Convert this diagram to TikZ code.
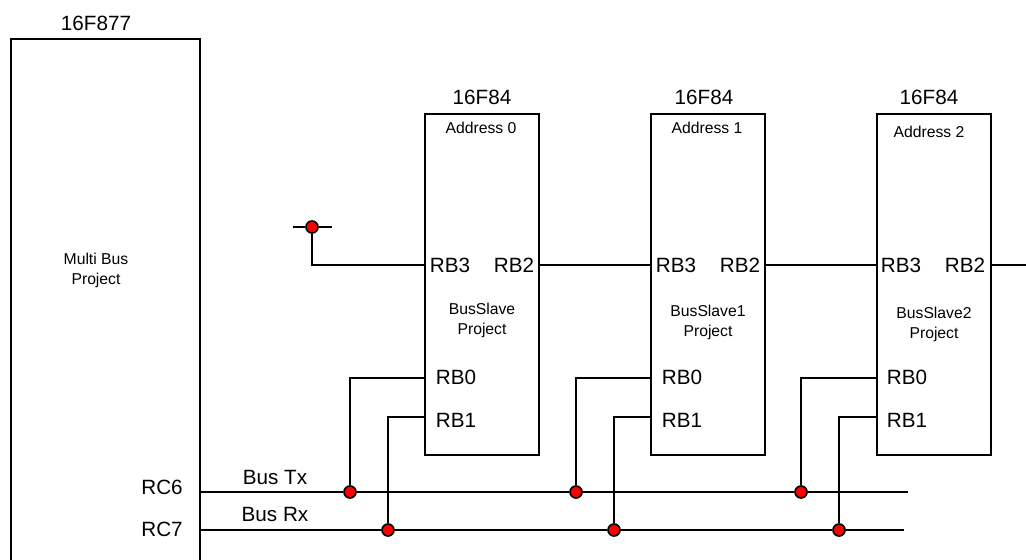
\documentclass[tikz,border=0pt]{standalone}
\usepackage{fontspec}
\setmainfont{Liberation Sans}
\tikzset{every picture/.style={line width=1.25pt}}
\tikzset{
  slavebox/.style={draw,rectangle,minimum width=114pt*0.75,minimum height=341pt*0.75,inner sep=0pt},
  bigtext/.style={font=\fontsize{15.5}{18}\selectfont,inner sep=0.75pt},
  smalltext/.style={font=\fontsize{11.8}{15}\selectfont,inner sep=0.75pt,align=center},
  joint/.style={draw,circle,fill=red,minimum size=9pt,inner sep=0pt}
}

\begin{document}
\begin{tikzpicture}[x=0.75pt,y=0.75pt,yscale=-1,xscale=1]
\useasboundingbox (0,0) rectangle (1026,560);

%Shape: Master outline
\draw (11,560) -- (11,39) -- (200,39) -- (200,560);
%Shape: Slave rectangles
\node [slavebox] (slave0) at (482,284.5) {};
\node [slavebox] (slave1) at (708,284.5) {};
\node [slavebox] (slave2) at (934,284.5) {};

% Text Node
\node [bigtext] (master) at (96,23) {16F877};
\node [smalltext] (masterproject) at (96,270) {Multi Bus\\Project};
\node [bigtext] (rc6) at (162,487) {RC6};
\node [bigtext] (rc7) at (162,529) {RC7};
\node [bigtext] (bustx) at (275,477) {Bus Tx};
\node [bigtext] (busrx) at (275,514) {Bus Rx};
% Text Node
\node [bigtext] (chip0) at (482,97) {16F84};
\node [smalltext] (addr0) at (481,128) {Address 0};
\node [smalltext] (project0) at (482,320) {BusSlave\\Project};
\node [bigtext] (rb3a) at (450,265) {RB3};
\node [bigtext] (rb2a) at (514,265) {RB2};
\node [bigtext] (rb0a) at (456,377) {RB0};
\node [bigtext] (rb1a) at (456,420) {RB1};
% Text Node
\node [bigtext] (chip1) at (704,97) {16F84};
\node [smalltext] (addr1) at (707,128) {Address 1};
\node [smalltext] (project1) at (708,322) {BusSlave1\\Project};
\node [bigtext] (rb3b) at (676,265) {RB3};
\node [bigtext] (rb2b) at (740,265) {RB2};
\node [bigtext] (rb0b) at (682,377) {RB0};
\node [bigtext] (rb1b) at (682,420) {RB1};
% Text Node
\node [bigtext] (chip2) at (929,97) {16F84};
\node [smalltext] (addr2) at (929,132) {Address 2};
\node [smalltext] (project2) at (934,324) {BusSlave2\\Project};
\node [bigtext] (rb3c) at (901,265) {RB3};
\node [bigtext] (rb2c) at (965,265) {RB2};
\node [bigtext] (rb0c) at (907,377) {RB0};
\node [bigtext] (rb1c) at (907,420) {RB1};

%Shape: Joints
\node [joint] (stub) at (312,227) {};
\node [joint] (tx0) at (350,492) {};
\node [joint] (tx1) at (576,492) {};
\node [joint] (tx2) at (801,492) {};
\node [joint] (rx0) at (388,530) {};
\node [joint] (rx1) at (614,530) {};
\node [joint] (rx2) at (839,530) {};

%Straight Lines: free ends
\coordinate (stubl) at (293,227);
\coordinate (stubr) at (332,227);
\coordinate (rc6pin) at (200,492);
\coordinate (rc7pin) at (200,530);
\coordinate (txend) at (908,492);
\coordinate (rxend) at (904,530);
\coordinate (chainend) at (1026,265);

% Connection
\draw (stubl) -- (stub);
\draw (stub) -- (stubr);
\draw (stub) |- (slave0.west |- rb3a);
\draw (slave0.east |- rb2a) -- (slave1.west |- rb3b);
\draw (slave1.east |- rb2b) -- (slave2.west |- rb3c);
\draw (slave2.east |- rb2c) -- (chainend);
% Connection
\draw (rc6pin) -- (tx0);
\draw (tx0) -- (tx1);
\draw (tx1) -- (tx2);
\draw (tx2) -- (txend);
\draw (rc7pin) -- (rx0);
\draw (rx0) -- (rx1);
\draw (rx1) -- (rx2);
\draw (rx2) -- (rxend);
% Connection
\draw (tx0) |- (slave0.west |- 0,378);
\draw (rx0) |- (slave0.west |- 0,417);
\draw (tx1) |- (slave1.west |- 0,378);
\draw (rx1) |- (slave1.west |- 0,417);
\draw (tx2) |- (slave2.west |- 0,378);
\draw (rx2) |- (slave2.west |- 0,417);

\end{tikzpicture}
\end{document}
